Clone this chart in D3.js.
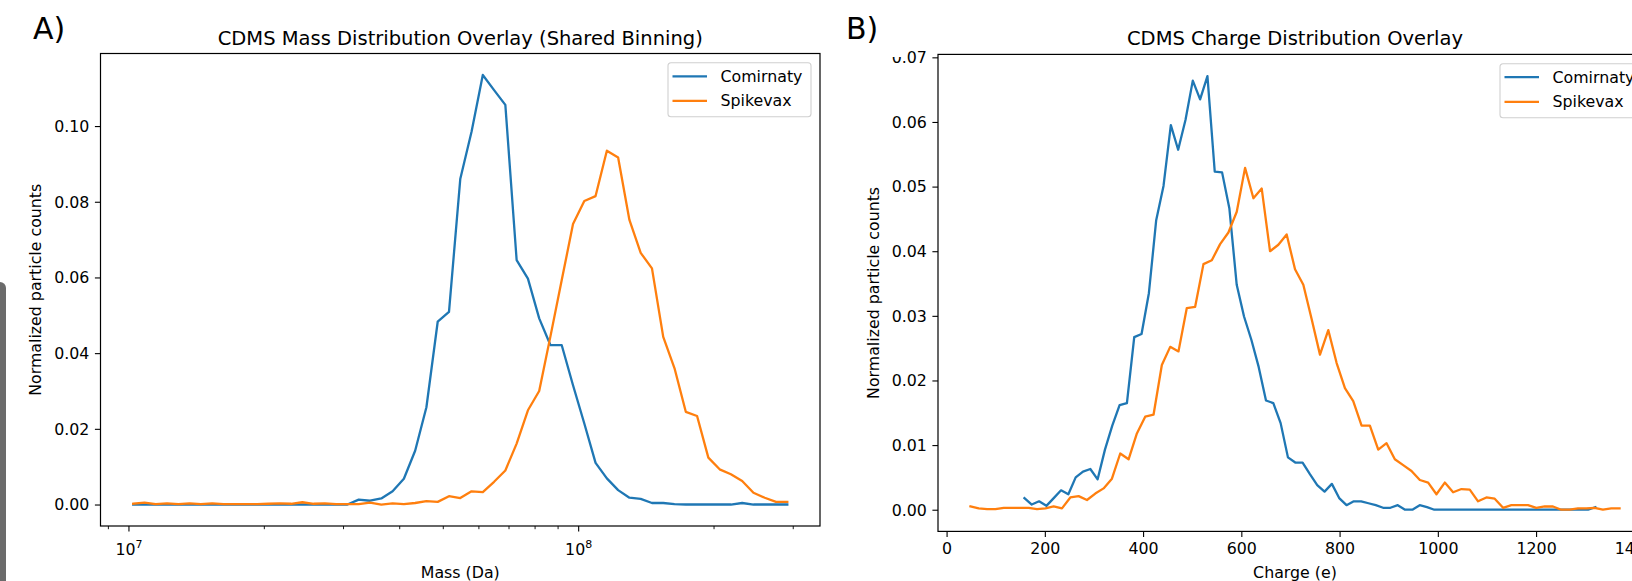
<!DOCTYPE html>
<html>
<head>
<meta charset="utf-8">
<script src="https://cdn.jsdelivr.net/npm/d3@7/dist/d3.min.js"></script>
<style>
  body { margin: 0; background: #fff; overflow: hidden; }
  svg { display: block; font-family: "DejaVu Sans", sans-serif; }
</style>
</head>
<body>
<svg width="1632" height="581"></svg>
<script>
// ---- panel A: mass histogram (shared log bins), bin centres in MDa
let massBins = [10.22, 10.83, 11.47, 12.15, 12.88, 13.64, 14.45, 15.31, 16.22, 17.18,
    18.21, 19.29, 20.43, 21.65, 22.94, 24.30, 25.74, 27.27, 28.89, 30.61,
    32.43, 34.36, 36.40, 38.57, 40.86, 43.29, 45.86, 48.59, 51.48, 54.54,
    57.78, 61.21, 64.85, 68.70, 72.79, 77.12, 81.70, 86.56, 91.70, 97.15,
    102.93, 109.04, 115.53, 122.39, 129.67, 137.38, 145.54, 154.19, 163.36, 173.07,
    183.35, 194.25, 205.80, 218.03, 230.99, 244.72, 259.27, 274.68, 291.01];

let massComirnaty = [0, 0, 0, 0, 0, 0, 0, 0, 0, 0,
    0, 0, 0, 0, 0, 0, 0, 0, 0, 0,
    0.0013, 0.0010, 0.0016, 0.0035, 0.0068, 0.0142, 0.0257, 0.0483, 0.0509, 0.0860,
    0.0985, 0.1135, 0.1095, 0.1056, 0.0646, 0.0597, 0.0492, 0.0421, 0.0421, 0.0315,
    0.0214, 0.0110, 0.0069, 0.0038, 0.0018, 0.0015, 0.0004, 0.0004, 0.0001, 0,
    0, 0, 0, 0, 0.0004, 0, 0, 0, 0];

let massSpikevax = [0.0002, 0.0005, 0.0001, 0.0003, 0.0001, 0.0003, 0.0001, 0.0003, 0.0001, 0.0001,
    0.0001, 0.0001, 0.0002, 0.0003, 0.0002, 0.0006, 0.0002, 0.0003, 0.0001, 0.0001,
    0.0001, 0.0005, 0.0000, 0.0003, 0.0001, 0.0004, 0.0009, 0.0007, 0.0022, 0.0017,
    0.0035, 0.0033, 0.0060, 0.0090, 0.0161, 0.0249, 0.0300, 0.0445, 0.0593, 0.0741,
    0.0802, 0.0815, 0.0935, 0.0917, 0.0752, 0.0665, 0.0624, 0.0443, 0.0360, 0.0245,
    0.0234, 0.0124, 0.0093, 0.0080, 0.0062, 0.0031, 0.0018, 0.0007, 0.0007];

// ---- panel B: charge histograms (each with its own bins), bin centres in e
let chargeBinsComirnaty = [158.5, 173.4, 188.3, 203.2, 218.1, 233.0, 247.9, 262.8, 277.7, 292.6,
    307.5, 322.4, 337.3, 352.2, 367.1, 382.0, 396.9, 411.8, 426.7, 441.6,
    456.5, 471.4, 486.3, 501.2, 516.1, 531.0, 545.9, 560.8, 575.7, 590.6,
    605.5, 620.4, 635.3, 650.2, 665.1, 680.0, 694.9, 709.8, 724.7, 739.6,
    754.5, 769.4, 784.3, 799.2, 814.1, 829.0, 843.9, 858.8, 873.7, 888.6,
    903.5, 918.4, 933.3, 948.2, 963.1, 978.0, 992.9, 1007.8, 1022.7, 1037.6,
    1052.5, 1067.4, 1082.3, 1097.2, 1112.1, 1127.0, 1141.9, 1156.8, 1171.7, 1186.6,
    1201.5, 1216.4, 1231.3, 1246.2, 1261.1, 1276.0, 1290.9, 1305.8, 1320.7];

let chargeComirnaty = [0.0018, 0.0008, 0.0013, 0.0006, 0.0018, 0.0030, 0.0024, 0.0050, 0.0059, 0.0063,
    0.0047, 0.0093, 0.0130, 0.0162, 0.0165, 0.0267, 0.0272, 0.0335, 0.0448, 0.0501,
    0.0595, 0.0557, 0.0603, 0.0664, 0.0635, 0.0671, 0.0523, 0.0522, 0.0466, 0.0348,
    0.0299, 0.0263, 0.0221, 0.0169, 0.0165, 0.0134, 0.0081, 0.0073, 0.0073, 0.0055,
    0.0038, 0.0028, 0.0040, 0.0018, 0.0007, 0.0013, 0.0013, 0.0010, 0.0007, 0.0003,
    0.0003, 0.0007, 0, 0, 0.0007, 0.0004, 0, 0, 0, 0,
    0, 0, 0, 0, 0, 0, 0, 0, 0, 0,
    0, 0, 0, 0, 0, 0, 0, 0, 0.0004];

let chargeBinsSpikevax = [48.6, 65.5, 82.5, 99.4, 116.4, 133.3, 150.2, 167.2, 184.1, 201.1,
    218.0, 234.9, 251.9, 268.8, 285.8, 302.7, 319.6, 336.6, 353.5, 370.5,
    387.4, 404.3, 421.3, 438.2, 455.2, 472.1, 489.0, 506.0, 522.9, 539.9,
    556.8, 573.7, 590.7, 607.6, 624.6, 641.5, 658.4, 675.4, 692.3, 709.3,
    726.2, 743.1, 760.1, 777.0, 794.0, 810.9, 827.8, 844.8, 861.7, 878.7,
    895.6, 912.5, 929.5, 946.4, 963.4, 980.3, 997.2, 1014.2, 1031.1, 1048.1,
    1065.0, 1081.9, 1098.9, 1115.8, 1132.8, 1149.7, 1166.6, 1183.6, 1200.5, 1217.5,
    1234.4, 1251.3, 1268.3, 1285.2, 1302.2, 1319.1, 1336.0, 1353.0, 1369.9];

let chargeSpikevax = [0.0005, 0.0002, 0.0001, 0.0001, 0.0003, 0.0003, 0.0003, 0.0003, 0.0001, 0.0002,
    0.0005, 0.0002, 0.0019, 0.0021, 0.0015, 0.0025, 0.0033, 0.0048, 0.0087, 0.0078,
    0.0118, 0.0144, 0.0147, 0.0224, 0.0252, 0.0245, 0.0312, 0.0314, 0.0380, 0.0386,
    0.0411, 0.0429, 0.0461, 0.0529, 0.0482, 0.0497, 0.0400, 0.0410, 0.0426, 0.0372,
    0.0348, 0.0295, 0.0240, 0.0278, 0.0227, 0.0188, 0.0168, 0.0130, 0.0130, 0.0093,
    0.0103, 0.0078, 0.0069, 0.0060, 0.0046, 0.0042, 0.0024, 0.0042, 0.0027, 0.0032,
    0.0031, 0.0013, 0.0019, 0.0017, 0.0003, 0.0007, 0.0007, 0.0007, 0.0003, 0.0005,
    0.0005, 0.0000, 0.0000, 0.0002, 0.0002, 0.0003, 0.0000, 0.0002, 0.0002];

let seriesNames = ["Comirnaty", "Spikevax"];
let massTicksY = [0, 0.02, 0.04, 0.06, 0.08, 0.10];
let chargeTicksY = [0, 0.01, 0.02, 0.03, 0.04, 0.05, 0.06, 0.07];
let chargeTicksX = [0, 200, 400, 600, 800, 1000, 1200, 1400];

let colors = ["#1f77b4", "#ff7f0e"],
    fontSize = 15.8,
    titleSize = 19.5,
    tickLen = 5.6,
    minorLen = 3.2,
    lineW = 2.3;

let svg = d3.select("svg");

// matplotlib style 5% margin
function pad(lo, hi) {
    let m = (hi - lo) * 0.05;
    return [lo - m, hi + m];
}

function panel(opt) {
    let w = opt.right - opt.left,
        h = opt.bottom - opt.top;
    let g = svg.append("g")
        .attr("transform", "translate(" + [opt.left, opt.top] + ")");

    g.append("clipPath").attr("id", opt.id + "-clip")
        .append("rect").attr("width", w).attr("height", h);

    let x = opt.x.range([0, w]),
        y = d3.scaleLinear().domain(opt.yDomain).range([h, 0]);

    // lines
    let line = d3.line().x(d => x(d[0])).y(d => y(d[1]));
    g.append("g").attr("clip-path", "url(#" + opt.id + "-clip)")
        .selectAll("path")
        .data(opt.series)
        .enter().append("path")
        .attr("fill", "none")
        .attr("stroke", (d, i) => colors[i])
        .attr("stroke-width", lineW)
        .attr("stroke-linejoin", "round")
        .attr("stroke-linecap", "square")
        .attr("d", d => line(d3.zip(d.x, d.y)));

    // y axis
    let gy = g.append("g")
        .call(d3.axisLeft(y).tickValues(opt.yTicks).tickSize(tickLen).tickPadding(5.6)
            .tickFormat(d3.format(".2f")));
    gy.select(".domain").remove();
    gy.selectAll("line").attr("stroke", "#000").attr("stroke-width", 1.1);
    gy.selectAll("text").attr("font-family", "DejaVu Sans").attr("font-size", fontSize)
        .attr("fill", "#000").attr("dy", "0.34em");

    // x axis
    let gx = g.append("g").attr("transform", "translate(0," + h + ")");
    opt.xAxis(gx, x);

    // frame
    g.append("rect")
        .attr("width", w).attr("height", h)
        .attr("fill", "none").attr("stroke", "#000").attr("stroke-width", 1.2);

    // labels
    g.append("text")
        .attr("x", w / 2).attr("y", opt.titleY - opt.top)
        .attr("text-anchor", "middle").attr("font-size", titleSize)
        .text(opt.title);
    g.append("text")
        .attr("x", w / 2).attr("y", 578 - opt.top)
        .attr("text-anchor", "middle").attr("font-size", fontSize)
        .text(opt.xLabel);
    g.append("text")
        .attr("transform", "translate(" + [-59.5, h / 2] + ") rotate(-90)")
        .attr("text-anchor", "middle").attr("font-size", fontSize)
        .text("Normalized particle counts");
    svg.append("text")
        .attr("x", opt.tagX).attr("y", 39)
        .attr("font-size", 30)
        .text(opt.tag);

    // legend
    let lg = g.append("g")
        .attr("transform", "translate(" + [w - 9 - 143, 9.3] + ")");
    lg.append("rect")
        .attr("width", 143).attr("height", 54).attr("rx", 3)
        .attr("fill", "#fff").attr("fill-opacity", 0.8)
        .attr("stroke", "#d0d0d0").attr("stroke-width", 1.1);
    let items = lg.selectAll(".item")
        .data(seriesNames)
        .enter().append("g")
        .attr("class", "item")
        .attr("transform", (d, i) => "translate(0," + (13.5 + i * 24.6) + ")");
    items.append("line")
        .attr("x1", 4.5).attr("x2", 39)
        .attr("stroke", (d, i) => colors[i]).attr("stroke-width", lineW);
    items.append("text")
        .attr("x", 52.5).attr("dy", "0.35em")
        .attr("font-size", fontSize)
        .text(d => d);
}

// ---- A) log mass axis
let logExt = pad(Math.log10(massBins[0] * 1e6), Math.log10(massBins[massBins.length - 1] * 1e6));

panel({
    id: "mass",
    left: 100.5, right: 820, top: 53.5, bottom: 526,
    x: d3.scaleLog().domain([Math.pow(10, logExt[0]), Math.pow(10, logExt[1])]),
    yDomain: pad(0, d3.max(massComirnaty.concat(massSpikevax))),
    yTicks: massTicksY,
    series: [
        {x: massBins.map(m => m * 1e6), y: massComirnaty},
        {x: massBins.map(m => m * 1e6), y: massSpikevax}
    ],
    xAxis: function (gx, x) {
        let ticks = x.ticks();
        let isMajor = v => Math.abs(Math.log10(v) - Math.round(Math.log10(v))) < 1e-9;
        gx.selectAll("line")
            .data(ticks)
            .enter().append("line")
            .attr("x1", d => x(d)).attr("x2", d => x(d))
            .attr("y2", d => isMajor(d) ? tickLen : minorLen)
            .attr("stroke", "#000")
            .attr("stroke-width", d => isMajor(d) ? 1.1 : 0.9);
        let lab = gx.selectAll("text")
            .data(ticks.filter(isMajor))
            .enter().append("text")
            .attr("x", d => x(d)).attr("y", 29)
            .attr("text-anchor", "middle")
            .attr("font-size", fontSize);
        lab.append("tspan").text("10");
        lab.append("tspan")
            .attr("dy", -7).attr("font-size", 11)
            .text(d => Math.round(Math.log10(d)));
    },
    title: "CDMS Mass Distribution Overlay (Shared Binning)",
    titleY: 45,
    xLabel: "Mass (Da)",
    tag: "A)", tagX: 33
});

// ---- B) linear charge axis
let chargeAll = chargeBinsComirnaty.concat(chargeBinsSpikevax);

panel({
    id: "charge",
    left: 938, right: 1652, top: 54.4, bottom: 531.4,
    x: d3.scaleLinear().domain(pad(d3.min(chargeAll), d3.max(chargeAll))),
    yDomain: pad(0, d3.max(chargeComirnaty.concat(chargeSpikevax))),
    yTicks: chargeTicksY,
    series: [
        {x: chargeBinsComirnaty, y: chargeComirnaty},
        {x: chargeBinsSpikevax, y: chargeSpikevax}
    ],
    xAxis: function (gx, x) {
        gx.call(d3.axisBottom(x).tickValues(chargeTicksX).tickSize(tickLen).tickPadding(5.6)
            .tickFormat(d3.format("d")));
        gx.select(".domain").remove();
        gx.selectAll("line").attr("stroke", "#000").attr("stroke-width", 1.1);
        gx.selectAll("text").attr("font-family", "DejaVu Sans").attr("font-size", fontSize)
            .attr("fill", "#000");
    },
    title: "CDMS Charge Distribution Overlay",
    titleY: 45,
    xLabel: "Charge (e)",
    tag: "B)", tagX: 846
});

// artefacts of the original screenshot: clipped top of the first "0.07" digit and a scrollbar edge
svg.append("rect").attr("x", 880).attr("y", 40).attr("width", 23).attr("height", 17).attr("fill", "#fff");
svg.append("rect")
    .attr("x", -8).attr("y", 282).attr("width", 14).attr("height", 320).attr("rx", 6)
    .attr("fill", "#6b6b6b");
</script>
</body>
</html>
